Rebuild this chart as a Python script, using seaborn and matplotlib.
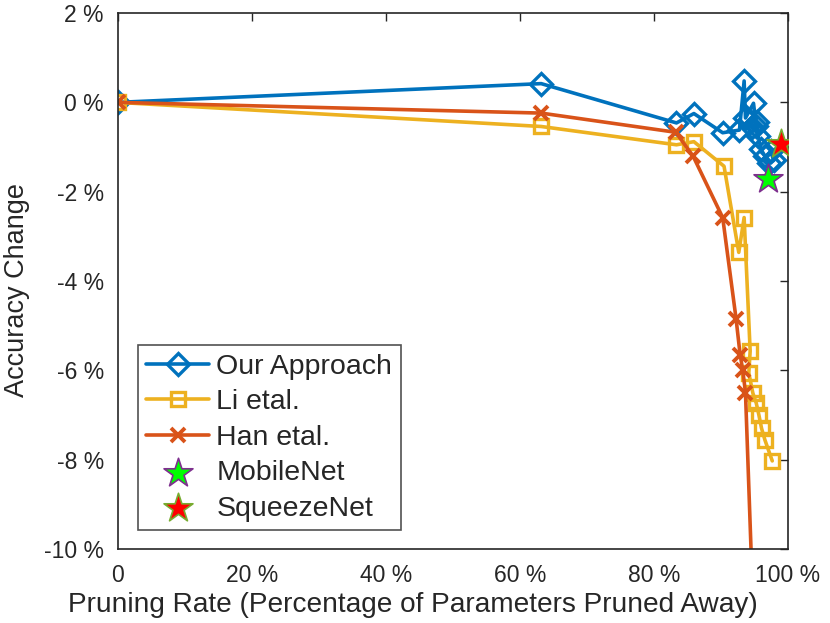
import numpy as np
import pandas as pd
import matplotlib
matplotlib.use("Agg")
import matplotlib.pyplot as plt
import seaborn as sns

# pruning rate (%) / accuracy change (%)
ours_x = [0, 63.2, 83.4, 86.0, 90.3, 92.8, 93.5, 93.7, 94.9, 95.3, 94.6, 95.4, 95.6, 95.3, 96.0, 96.6, 97.2, 97.9, 97.5]
ours_y = [0, 0.42, -0.46, -0.25, -0.68, -0.62, 0.48, -0.35, -0.02, -0.15, -0.55, -0.45, -0.75, -0.92, -1.05, -1.2, -1.36, -1.3, -1.1]

li_x = [0, 63.2, 83.4, 86.0, 90.5, 92.7, 93.5, 94.4, 94.2, 94.8, 95.3, 95.7, 96.1, 96.6, 97.7]
li_y = [0, -0.54, -0.95, -0.88, -1.43, -3.36, -2.58, -5.57, -6.06, -6.51, -6.73, -7.0, -7.3, -7.56, -8.03]

han_x = [0, 63.2, 83.3, 85.9, 90.3, 92.3, 92.9, 93.3, 93.7, 95.0]
han_y = [0, -0.24, -0.67, -1.21, -2.58, -4.85, -5.65, -6.0, -6.5, -12.0]

mobilenet = (97.1, -1.72)
squeezenet = (99.0, -0.93)

x_ticks = [0, 20, 40, 60, 80, 100]
x_ticklabels = ["0", "20 %", "40 %", "60 %", "80 %", "100 %"]
y_ticks = [-10, -8, -6, -4, -2, 0, 2]
y_ticklabels = ["-10 %", "-8 %", "-6 %", "-4 %", "-2 %", "0 %", "2 %"]

BLUE = "#0072BD"
YELLOW = "#EDB120"
ORANGE = "#D95319"

sns.set_style("white")
plt.rcParams["font.family"] = ["Liberation Sans", "DejaVu Sans"]

fig = plt.figure(figsize=(8.3, 6.23), dpi=100)
ax = fig.add_axes([0.142, 0.119, 0.807, 0.860])

sns.lineplot(x=ours_x, y=ours_y, sort=False, ax=ax, color=BLUE, lw=2.6,
             marker="D", ms=11, mfc="none", mec=BLUE, mew=2.4, label="Our Approach")
sns.lineplot(x=li_x, y=li_y, sort=False, ax=ax, color=YELLOW, lw=2.6,
             marker="s", ms=10, mfc="none", mec=YELLOW, mew=2.4, label="Li etal.")
sns.lineplot(x=han_x, y=han_y, sort=False, ax=ax, color=ORANGE, lw=2.6,
             marker="x", ms=10, mec=ORANGE, mew=2.8, label="Han etal.")
sns.scatterplot(x=[mobilenet[0]], y=[mobilenet[1]], ax=ax, marker="*", s=480,
                color="#00FF00", edgecolor="#7E2F8E", linewidth=1.2, label="MobileNet", zorder=5)
sns.scatterplot(x=[squeezenet[0]], y=[squeezenet[1]], ax=ax, marker="*", s=480,
                color="#FF0000", edgecolor="#77AC30", linewidth=1.2, label="SqueezeNet", zorder=5)

ax.set_xlim(0, 100)
ax.set_ylim(-10, 2)
ax.set_xticks(x_ticks)
ax.set_xticklabels(x_ticklabels)
ax.set_yticks(y_ticks)
ax.set_yticklabels(y_ticklabels)
ax.tick_params(direction="in", length=6, width=1, colors="#262626", labelsize=16.5,
               top=True, right=True, labelcolor="#262626")
ax.tick_params(axis="x", pad=11)
ax.tick_params(axis="y", pad=10)
for s in ax.spines.values():
    s.set_color("#262626")
    s.set_linewidth(1.2)

ax.set_xlabel("Pruning Rate (Percentage of Parameters Pruned Away)", fontsize=20.2,
              color="#262626")
ax.xaxis.set_label_coords(0.44, -0.08)
ax.set_ylabel("Accuracy Change", fontsize=19.5, color="#262626")
ax.yaxis.set_label_coords(-0.131, 0.483)

leg = ax.legend(loc="lower left", bbox_to_anchor=(0.03, 0.035), borderaxespad=0,
                fontsize=20.5, frameon=True, fancybox=False, edgecolor="#262626",
                handlelength=2.2, handletextpad=0.25, labelspacing=0.33, borderpad=0.3,
                markerscale=1.0)
leg.get_frame().set_linewidth(1.2)

fig.savefig("out.png", dpi=100)
